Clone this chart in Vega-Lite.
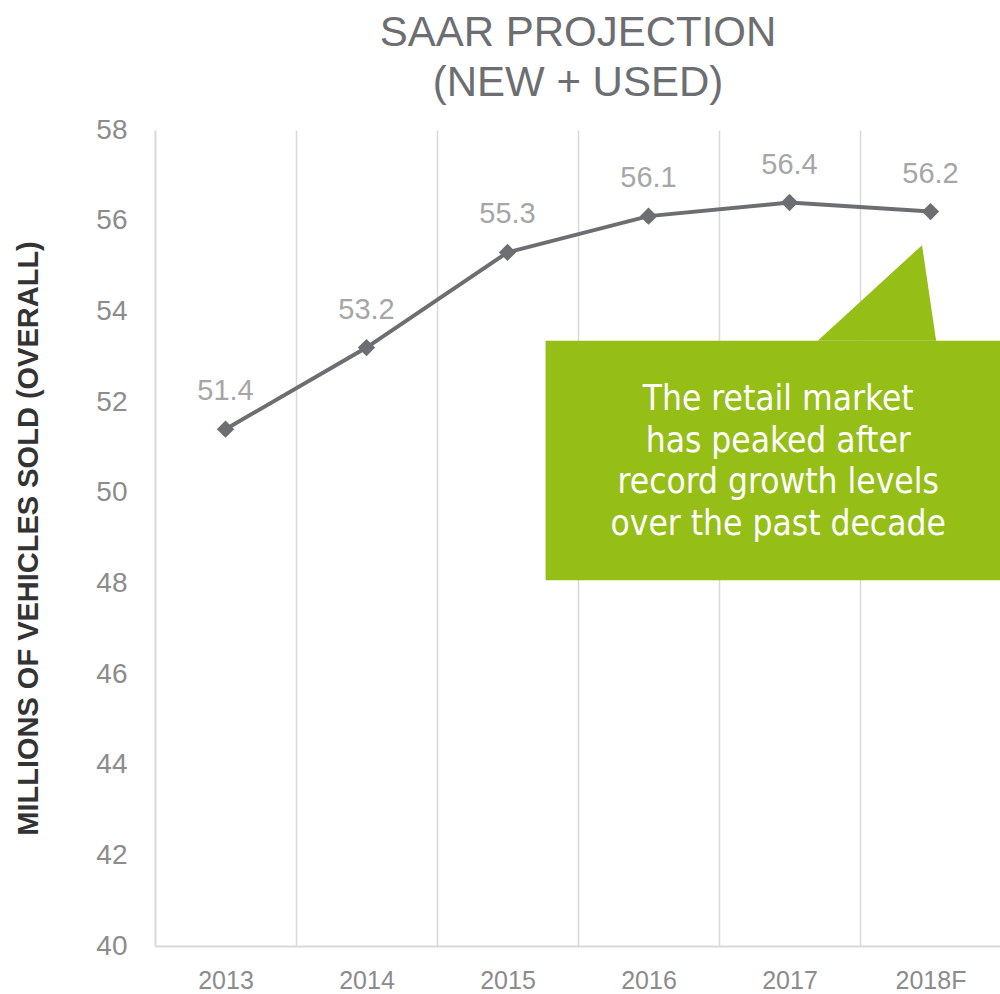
{
  "$schema": "https://vega.github.io/schema/vega-lite/v6.json",
  "autosize": "none",
  "width": 846,
  "height": 816,
  "padding": {"left": 155, "top": 130, "right": 0, "bottom": 48},
  "background": "white",
  "config": {
    "view": {"stroke": null},
    "font": "Liberation Sans"
  },
  "title": {
    "text": ["SAAR PROJECTION", "(NEW + USED)"],
    "fontSize": 42,
    "fontWeight": "normal",
    "color": "#6d6e71",
    "lineHeight": 50,
    "anchor": "middle",
    "frame": "group",
    "offset": 11
  },
  "datasets": {
    "sales": [
      {"year": "2013", "value": 51.4},
      {"year": "2014", "value": 53.2},
      {"year": "2015", "value": 55.3},
      {"year": "2016", "value": 56.1},
      {"year": "2017", "value": 56.4},
      {"year": "2018F", "value": 56.2}
    ],
    "box": [{"x": 2.77, "x2": 6, "y": 53.35, "y2": 48.07}],
    "pointer": [
      {"x": 4.70, "y": 53.35, "base": 53.35},
      {"x": 5.44, "y": 55.46, "base": 53.35},
      {"x": 5.54, "y": 53.35, "base": 53.35}
    ],
    "note": [{"x": 4.42, "y": 51.82, "text": "The retail market\nhas peaked after\nrecord growth levels\nover the past decade"}]
  },
  "layer": [
    {
      "layer": [
        {
          "data": {"name": "box"},
          "mark": {"type": "rect", "color": "#95be17"},
          "encoding": {
            "x": {"field": "x", "type": "quantitative", "scale": {"domain": [0, 6], "nice": false, "zero": false},
                  "axis": {"values": [1, 2, 3, 4, 5], "grid": true, "gridColor": "#d9d9d9", "gridWidth": 1.5, "labels": false, "ticks": false, "domain": false, "title": null, "orient": "top"}},
            "x2": {"field": "x2"},
            "y": {"field": "y", "type": "quantitative"},
            "y2": {"field": "y2"}
          }
        },
        {
          "data": {"name": "pointer"},
          "mark": {"type": "area", "color": "#95be17", "interpolate": "linear"},
          "encoding": {
            "x": {"field": "x", "type": "quantitative"},
            "y": {"field": "y", "type": "quantitative"},
            "y2": {"field": "base"}
          }
        },
        {
          "data": {"name": "note"},
          "mark": {"type": "text", "font": "'DejaVu Sans Condensed', 'Liberation Sans Narrow', 'Arial Narrow', 'Liberation Sans', sans-serif", "fontSize": 35, "color": "white", "lineBreak": "\n", "lineHeight": 41.5, "align": "center", "baseline": "alphabetic"},
          "encoding": {
            "x": {"field": "x", "type": "quantitative"},
            "y": {"field": "y", "type": "quantitative"},
            "text": {"field": "text"}
          }
        }
      ]
    },
    {
      "data": {"name": "sales"},
      "encoding": {
        "x": {"field": "year", "type": "ordinal", "sort": null,
              "axis": {"orient": "bottom", "title": null, "labelAngle": 0, "labelFontSize": 25, "labelColor": "#8c8c8c", "labelPadding": 22, "ticks": false, "domainColor": "#d9d9d9", "domainWidth": 2, "grid": false}},
        "y": {"field": "value", "type": "quantitative"}
      },
      "layer": [
        {"mark": {"type": "line", "color": "#6d6e71", "strokeWidth": 4}},
        {"mark": {"type": "point", "shape": "diamond", "filled": true, "size": 300, "color": "#6d6e71", "opacity": 1}},
        {"mark": {"type": "text", "fontSize": 29, "color": "#a6a6a6", "dy": -38}, "encoding": {"text": {"field": "value", "type": "quantitative", "format": ".1f"}}}
      ]
    }
  ],
  "encoding": {
    "y": {
      "type": "quantitative",
      "scale": {"domain": [40, 58], "nice": false, "zero": false},
      "axis": {"values": [40, 42, 44, 46, 48, 50, 52, 54, 56, 58], "grid": false, "ticks": false, "labelFontSize": 28, "labelColor": "#8c8c8c", "labelPadding": 28, "domainColor": "#d9d9d9", "domainWidth": 2,
               "title": "MILLIONS OF VEHICLES SOLD (OVERALL)", "titleFontSize": 29, "titleFontWeight": "bold", "titleColor": "#333333", "titlePadding": 52}
    }
  },
  "resolve": {"scale": {"x": "independent"}, "axis": {"x": "independent"}}
}
